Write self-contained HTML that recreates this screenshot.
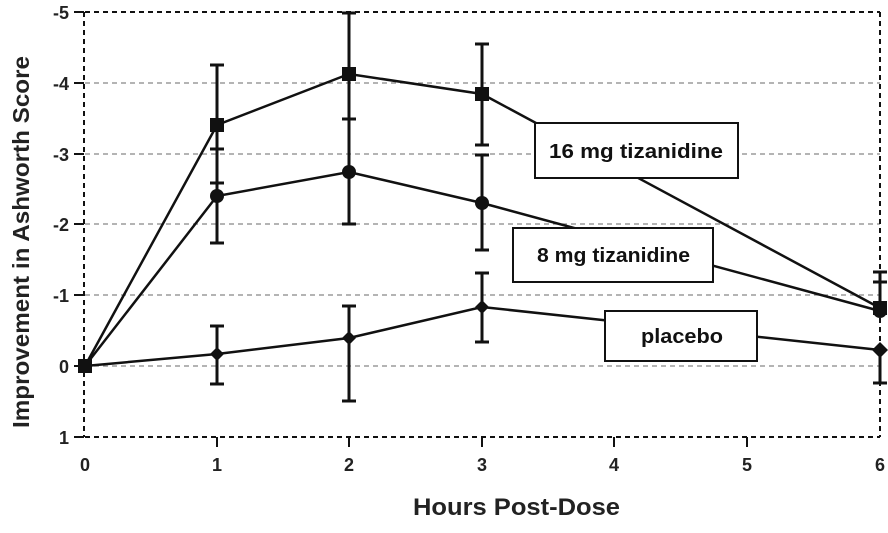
<!DOCTYPE html><html><head><style>body{margin:0;background:#fff}</style></head><body>
<svg width="888" height="528" xmlns="http://www.w3.org/2000/svg" font-family="Liberation Sans, sans-serif" font-weight="bold">
<g stroke="#888" stroke-width="1.3" stroke-dasharray="5,4">
<line x1="85" y1="83" x2="880" y2="83"/><line x1="85" y1="154" x2="880" y2="154"/><line x1="85" y1="224" x2="880" y2="224"/><line x1="85" y1="295" x2="880" y2="295"/><line x1="85" y1="366" x2="880" y2="366"/>
</g>
<g stroke="#111" stroke-width="2" stroke-dasharray="5,4" fill="none">
<line x1="85" y1="12" x2="880" y2="12"/><line x1="85" y1="437" x2="880" y2="437"/><line x1="84" y1="12" x2="84" y2="437"/><line x1="880" y1="12" x2="880" y2="437"/>
</g>
<g stroke="#111" stroke-width="2">
<line x1="74" y1="12" x2="84" y2="12"/><line x1="74" y1="83" x2="84" y2="83"/><line x1="74" y1="154" x2="84" y2="154"/><line x1="74" y1="224" x2="84" y2="224"/><line x1="74" y1="295" x2="84" y2="295"/><line x1="74" y1="366" x2="84" y2="366"/><line x1="74" y1="437" x2="84" y2="437"/>
<line x1="217" y1="437" x2="217" y2="447"/><line x1="349" y1="437" x2="349" y2="447"/><line x1="482" y1="437" x2="482" y2="447"/><line x1="614" y1="437" x2="614" y2="447"/><line x1="747" y1="437" x2="747" y2="447"/>
</g>
<g font-size="18" text-anchor="end" fill="#222">
<text x="69" y="19">-5</text><text x="69" y="90">-4</text><text x="69" y="161">-3</text><text x="69" y="231">-2</text><text x="69" y="302">-1</text><text x="69" y="373">0</text><text x="69" y="444">1</text>
</g>
<g font-size="18" text-anchor="middle" fill="#222">
<text x="85" y="471">0</text><text x="217" y="471">1</text><text x="349" y="471">2</text><text x="482" y="471">3</text><text x="614" y="471">4</text><text x="747" y="471">5</text><text x="880" y="471">6</text>
</g>
<text x="413" y="515" font-size="24" textLength="207" lengthAdjust="spacingAndGlyphs" fill="#222">Hours Post-Dose</text>
<text transform="translate(29,428) rotate(-90)" font-size="23" textLength="372" lengthAdjust="spacingAndGlyphs" fill="#222">Improvement in Ashworth Score</text>
<g stroke="#111" stroke-width="3" fill="none">
<path d="M217 65V183M210 65H224M210 183H224M349 13V119M342 13H356M342 119H356M482 44V145M475 44H489M475 145H489M880 272V308M873 272H887"/>
<path d="M217 149V243M210 149H224M210 243H224M349 119V224M342 119H356M342 224H356M482 155V250M475 155H489M475 250H489M880 282V311M873 282H887"/>
<path d="M217 326V384M210 326H224M210 384H224M349 306V401M342 306H356M342 401H356M482 273V342M475 273H489M475 342H489M880 350V383M873 383H887"/>
</g>
<g stroke="#111" stroke-width="2.5" fill="none">
<polyline points="85,366 217,125 349,74 482,94 880,308"/>
<polyline points="85,366 217,196 349,172 482,203 880,311"/>
<polyline points="85,366 217,354 349,338 482,307 880,350"/>
</g>
<g fill="#111">
<rect x="78" y="359" width="14" height="14"/>
<rect x="210" y="118" width="14" height="14"/><rect x="342" y="67" width="14" height="14"/><rect x="475" y="87" width="14" height="14"/><rect x="873" y="301" width="14" height="14"/>
<circle cx="217" cy="196" r="7"/><circle cx="349" cy="172" r="7"/><circle cx="482" cy="203" r="7"/><circle cx="880" cy="311" r="7"/>
<path d="M217 347l7 7-7 7-7-7z M349 331l7 7-7 7-7-7z M482 300l7 7-7 7-7-7z M880 342l8 8-8 8-8-8z"/>
</g>
<g stroke="#111" stroke-width="2" fill="#fff">
<rect x="535" y="123" width="203" height="55"/><rect x="513" y="228" width="200" height="54"/><rect x="605" y="311" width="152" height="50"/>
</g>
<g font-size="20" fill="#111">
<text x="549" y="158" textLength="174" lengthAdjust="spacingAndGlyphs">16 mg tizanidine</text>
<text x="537" y="262" textLength="153" lengthAdjust="spacingAndGlyphs">8 mg tizanidine</text>
<text x="641" y="343" textLength="82" lengthAdjust="spacingAndGlyphs">placebo</text>
</g>
</svg>
</body></html>
